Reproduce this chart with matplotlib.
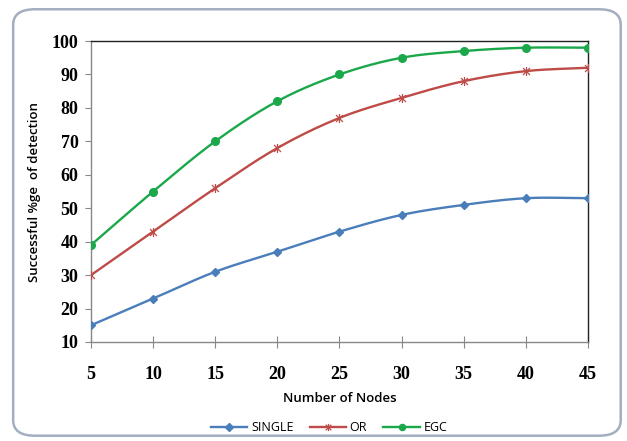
import numpy as np
import matplotlib.pyplot as plt
from matplotlib.patches import FancyBboxPatch
from matplotlib.path import Path

nodes = [5, 10, 15, 20, 25, 30, 35, 40, 45]
single = [15, 23, 31, 37, 43, 48, 51, 53, 53]
orr = [30, 43, 56, 68, 77, 83, 88, 91, 92]
egc = [39, 55, 70, 82, 90, 95, 97, 98, 98]
series = ['SINGLE', 'OR', 'EGC']


def smooth(x, y, steps=20):
    # catmull-rom style curve through the points (like excel smoothed lines)
    x = np.asarray(x, float)
    y = np.asarray(y, float)
    px = np.concatenate([[2 * x[0] - x[1]], x, [2 * x[-1] - x[-2]]])
    py = np.concatenate([[2 * y[0] - y[1]], y, [2 * y[-1] - y[-2]]])
    xs, ys = [], []
    for i in range(1, len(px) - 2):
        t = np.linspace(0, 1, steps, endpoint=False)
        for p, out in ((px, xs), (py, ys)):
            p0, p1, p2, p3 = p[i - 1], p[i], p[i + 1], p[i + 2]
            out.extend(0.5 * (2 * p1 + (-p0 + p2) * t + (2 * p0 - 5 * p1 + 4 * p2 - p3) * t ** 2
                              + (-p0 + 3 * p1 - 3 * p2 + p3) * t ** 3))
    xs.append(x[-1])
    ys.append(y[-1])
    return xs, ys


star = Path([(-1, -1), (1, 1), (-1, 1), (1, -1), (0, -1.3), (0, 1.3)],
            [Path.MOVETO, Path.LINETO, Path.MOVETO, Path.LINETO, Path.MOVETO, Path.LINETO])

fig = plt.figure(figsize=(6.27, 4.41), dpi=100)
fig.patches.append(FancyBboxPatch((0.021, 0.012), 0.969, 0.967, boxstyle='round,pad=0,rounding_size=0.035',
                                  transform=fig.transFigure, fill=False, edgecolor='#a3afc0', linewidth=1.8))
ax = fig.add_axes([0.1451, 0.2245, 0.7927, 0.6825])

styles = [
    (single, '#4a7ebb', dict(marker='D', markersize=4.5)),
    (orr, '#be4b48', dict(marker=star, markersize=6.5, markerfacecolor='none', markeredgewidth=0.9)),
    (egc, '#1aa84b', dict(marker='o', markersize=5.5)),
]
handles = []
for (vals, col, mk), name in zip(styles, series):
    sx, sy = smooth(nodes, vals)
    ax.plot(sx, sy, color=col, linewidth=1.7, zorder=2)
    ax.plot(nodes, vals, linestyle='none', color=col, zorder=3, **mk)
    h, = ax.plot([], [], color=col, linewidth=1.7, **{**mk, 'markersize': mk['markersize'] * 0.8})
    handles.append(h)

ax.set_xlim(5, 45)
ax.set_ylim(10, 100)
ax.set_xticks(nodes)
ax.set_yticks(range(10, 101, 10))
ax.tick_params(axis='x', direction='inout', length=8, color='#888888', pad=13)
ax.tick_params(axis='y', direction='out', length=4, color='#888888', pad=5)
for lab in ax.get_xticklabels() + ax.get_yticklabels():
    lab.set_fontfamily('Liberation Serif')
    lab.set_fontweight('bold')
    lab.set_fontsize(13)
ax.spines['left'].set_color('#888888')
ax.spines['bottom'].set_color('#888888')
ax.spines['top'].set_color('#222222')
ax.spines['right'].set_color('#222222')
for s in ax.spines.values():
    s.set_linewidth(1)

ax.set_xlabel('Number of Nodes', fontfamily='Open Sans', fontsize=9.5, fontweight='semibold', labelpad=7)
ax.set_ylabel('Successful %ge  of detection', fontfamily='Open Sans', fontsize=9.5, fontweight='semibold',
              labelpad=8)

fig.legend(handles, series, loc='center', bbox_to_anchor=(0.525, 0.03), ncol=3, frameon=False,
           prop={'family': 'Open Sans', 'size': 9}, handlelength=2.9, columnspacing=1.3, handletextpad=0.3)

fig.savefig('out.png', dpi=100)
